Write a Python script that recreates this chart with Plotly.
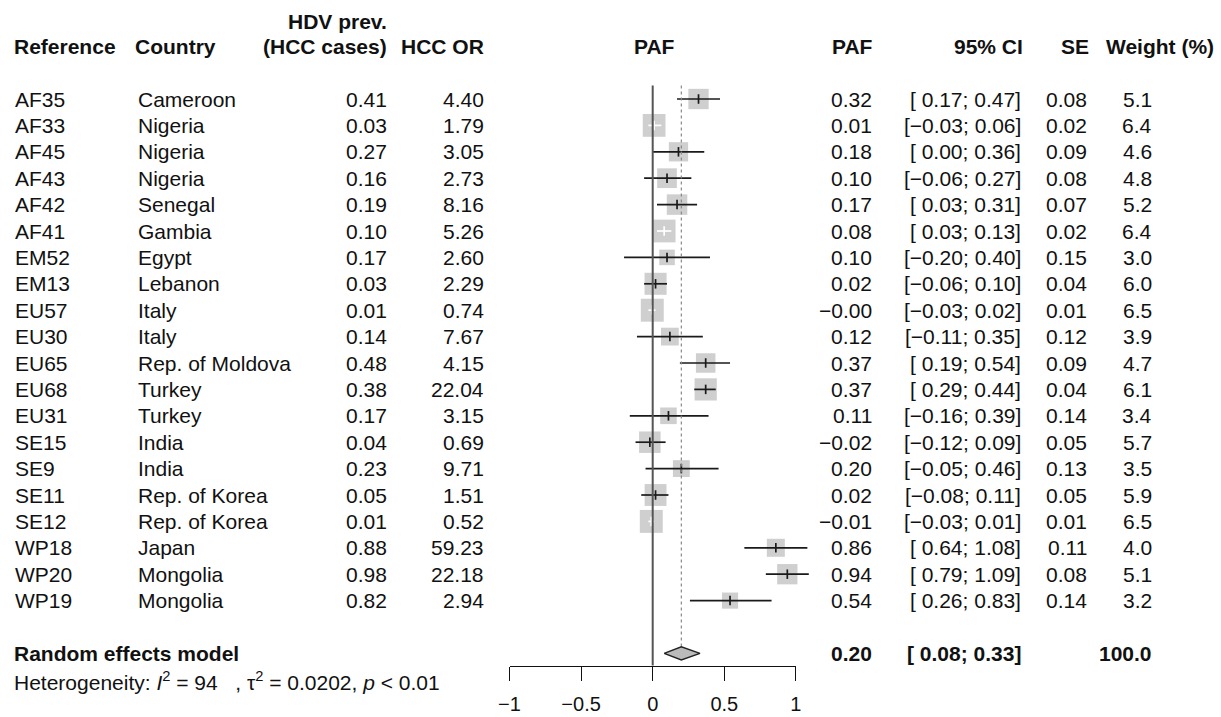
import math
import plotly.graph_objects as go

# ---- study data -------------------------------------------------------------
references = ["AF35", "AF33", "AF45", "AF43", "AF42", "AF41", "EM52", "EM13", "EU57", "EU30",
              "EU65", "EU68", "EU31", "SE15", "SE9", "SE11", "SE12", "WP18", "WP20", "WP19"]
countries = ["Cameroon", "Nigeria", "Nigeria", "Nigeria", "Senegal", "Gambia", "Egypt", "Lebanon",
             "Italy", "Italy", "Rep. of Moldova", "Turkey", "Turkey", "India", "India",
             "Rep. of Korea", "Rep. of Korea", "Japan", "Mongolia", "Mongolia"]
hdv_prev = [0.41, 0.03, 0.27, 0.16, 0.19, 0.10, 0.17, 0.03, 0.01, 0.14,
            0.48, 0.38, 0.17, 0.04, 0.23, 0.05, 0.01, 0.88, 0.98, 0.82]
hcc_or = [4.40, 1.79, 3.05, 2.73, 8.16, 5.26, 2.60, 2.29, 0.74, 7.67,
          4.15, 22.04, 3.15, 0.69, 9.71, 1.51, 0.52, 59.23, 22.18, 2.94]
paf = [0.32, 0.01, 0.18, 0.10, 0.17, 0.08, 0.10, 0.02, -0.003, 0.12,
       0.37, 0.37, 0.11, -0.02, 0.20, 0.02, -0.01, 0.86, 0.94, 0.54]
ci_low = [0.17, -0.03, 0.00, -0.06, 0.03, 0.03, -0.20, -0.06, -0.03, -0.11,
          0.19, 0.29, -0.16, -0.12, -0.05, -0.08, -0.03, 0.64, 0.79, 0.26]
ci_high = [0.47, 0.06, 0.36, 0.27, 0.31, 0.13, 0.40, 0.10, 0.02, 0.35,
           0.54, 0.44, 0.39, 0.09, 0.46, 0.11, 0.01, 1.08, 1.09, 0.83]
se = [0.08, 0.02, 0.09, 0.08, 0.07, 0.02, 0.15, 0.04, 0.01, 0.12,
      0.09, 0.04, 0.14, 0.05, 0.13, 0.05, 0.01, 0.11, 0.08, 0.14]
weight = [5.1, 6.4, 4.6, 4.8, 5.2, 6.4, 3.0, 6.0, 6.5, 3.9,
          4.7, 6.1, 3.4, 5.7, 3.5, 5.9, 6.5, 4.0, 5.1, 3.2]

# pooled (random effects) estimate
pooled_est = 0.20
pooled_low = 0.08
pooled_high = 0.33
pooled_weight = 100.0
i2 = 94
tau2 = 0.0202
p_text = "&lt; 0.01"

axis_ticks = [-1, -0.5, 0, 0.5, 1]

# ---- layout geometry ----------------------------------------------------------
W, H = 1221, 717
ZERO_PX = 652.7          # pixel column of PAF = 0
UNIT_PX = 143.2          # pixels per PAF unit
ROW0_PX = 99.0           # pixel row of first study
ROW_PX = 26.4            # pixels between rows
x_range = [-ZERO_PX / UNIT_PX, (W - ZERO_PX) / UNIT_PX]
y_range = [(H - ROW0_PX) / ROW_PX, -ROW0_PX / ROW_PX]

n = len(references)
rows = list(range(n))
pooled_row = n + 1
hetero_row = n + 2.06
header_row = -1.98
header_row2 = -2.92
axis_row = pooled_row + 0.46

FONT = "Liberation Sans, Arial, sans-serif"
FS = 21
INK = "#111111"
BOX = "#BBBBBB"
CLEAR = "rgba(0,0,0,0)"


def px(xpix):
    return xpix / W


def fmt(v):
    s = f"{v:.2f}"
    return s.replace("-", "\u2212")


def fmt_ci(lo, hi):
    lo_s = ("\u2212" if lo < 0 else " ") + f"{abs(lo):.2f}"
    return f"[{lo_s}; {fmt(hi)}]"


fig = go.Figure()

# study squares, area proportional to weight
sizes = [9.0 * math.sqrt(w) for w in weight]
fig.add_trace(go.Scatter(
    x=paf, y=rows, mode="markers",
    marker=dict(symbol="square", size=sizes, color=BOX, line=dict(width=0)),
    hoverinfo="skip", showlegend=False))

# confidence intervals and estimate ticks (white when inside the square)
for est, lo, hi, r, s in zip(paf, ci_low, ci_high, rows, sizes):
    half = s / 2 / UNIT_PX
    inside = lo >= est - half and hi <= est + half
    col = "white" if inside else "#1a1a1a"
    fig.add_trace(go.Scatter(
        x=[lo, hi], y=[r, r], mode="lines",
        line=dict(color=col, width=1.7), hoverinfo="skip", showlegend=False))
    fig.add_trace(go.Scatter(
        x=[est, est], y=[r - 0.18, r + 0.18], mode="lines",
        line=dict(color=col, width=1.7), hoverinfo="skip", showlegend=False))

# line of no effect
fig.add_trace(go.Scatter(
    x=[0, 0], y=[-0.51, axis_row], mode="lines",
    line=dict(color="#555555", width=2), hoverinfo="skip", showlegend=False))

# pooled estimate reference line
fig.add_trace(go.Scatter(
    x=[pooled_est, pooled_est], y=[-0.51, pooled_row - 0.25], mode="lines",
    line=dict(color="#888888", width=1.2, dash="dot"), hoverinfo="skip", showlegend=False))

# pooled diamond
fig.add_trace(go.Scatter(
    x=[pooled_low, pooled_est, pooled_high, pooled_est, pooled_low],
    y=[pooled_row, pooled_row - 0.25, pooled_row, pooled_row + 0.25, pooled_row],
    mode="lines", fill="toself", fillcolor=BOX,
    line=dict(color="#222222", width=1.4), hoverinfo="skip", showlegend=False))

# invisible trace so the display axis is drawn
fig.add_trace(go.Scatter(x=[0], y=[0], xaxis="x2", yaxis="y", mode="markers",
                         marker=dict(opacity=0), hoverinfo="skip", showlegend=False))

annotations = []


def add_text(text, xpix, row, anchor, bold=False):
    if bold:
        text = f"<b>{text}</b>"
    annotations.append(dict(
        x=px(xpix), y=row, xref="paper", yref="y", text=text, showarrow=False,
        xanchor=anchor, yanchor="middle", font=dict(family=FONT, size=FS, color=INK)))


# column headers
add_text("HDV prev.", 389, header_row2, "right", True)
add_text("Reference", 12, header_row, "left", True)
add_text("Country", 133, header_row, "left", True)
add_text("(HCC cases)", 389, header_row, "right", True)
add_text("HCC OR", 486, header_row, "right", True)
add_text("PAF", 654, header_row, "center", True)
add_text("PAF", 875, header_row, "right", True)
add_text("95% CI", 1025, header_row, "right", True)
add_text("SE", 1091, header_row, "right", True)
add_text("Weight (%)", 1216, header_row, "right", True)

# study rows
for i in range(n):
    add_text(references[i], 13, rows[i], "left")
    add_text(countries[i], 136, rows[i], "left")
    add_text(f"{hdv_prev[i]:.2f}", 389, rows[i], "right")
    add_text(f"{hcc_or[i]:.2f}", 486, rows[i], "right")
    add_text(fmt(paf[i]), 874, rows[i], "right")
    add_text(fmt_ci(ci_low[i], ci_high[i]), 1023, rows[i], "right")
    add_text(f"{se[i]:.2f}", 1089, rows[i], "right")
    add_text(f"{weight[i]:.1f}", 1154, rows[i], "right")

# pooled row
add_text("Random effects model", 12, pooled_row, "left", True)
add_text(fmt(pooled_est), 874, pooled_row, "right", True)
add_text(fmt_ci(pooled_low, pooled_high), 1023, pooled_row, "right", True)
add_text(f"{pooled_weight:.1f}", 1154, pooled_row, "right", True)
add_text(f"Heterogeneity: <i>I</i><sup>2</sup> = {i2}\u00a0\u00a0\u00a0, \u03c4<sup>2</sup> = {tau2:.4f}, "
         f"<i>p</i> {p_text}", 12, hetero_row, "left")

axis_paper_y = 1 - (ROW0_PX + axis_row * ROW_PX) / H

fig.update_layout(
    width=W, height=H, margin=dict(l=0, r=0, t=0, b=0, pad=0, autoexpand=False),
    paper_bgcolor="white", plot_bgcolor=CLEAR,
    xaxis=dict(domain=[0, 1], range=x_range, visible=False, fixedrange=True, automargin=False),
    xaxis2=dict(domain=[px(ZERO_PX - UNIT_PX), px(ZERO_PX + UNIT_PX)], range=[-1, 1],
                anchor="free", position=axis_paper_y, automargin=False,
                showline=True, linecolor="#111111", linewidth=1.2,
                ticks="outside", ticklen=14, tickwidth=1.2, tickcolor="#111111",
                ticklabelstandoff=6,
                tickvals=axis_ticks,
                ticktext=[("\u2212" if t < 0 else "") + f"{abs(t):g}" for t in axis_ticks],
                showgrid=False, zeroline=False,
                tickfont=dict(family=FONT, size=20, color=INK), fixedrange=True),
    yaxis=dict(domain=[0, 1], range=y_range, visible=False, fixedrange=True, automargin=False),
    annotations=annotations,
    showlegend=False,
)

fig.write_html("out.html")
